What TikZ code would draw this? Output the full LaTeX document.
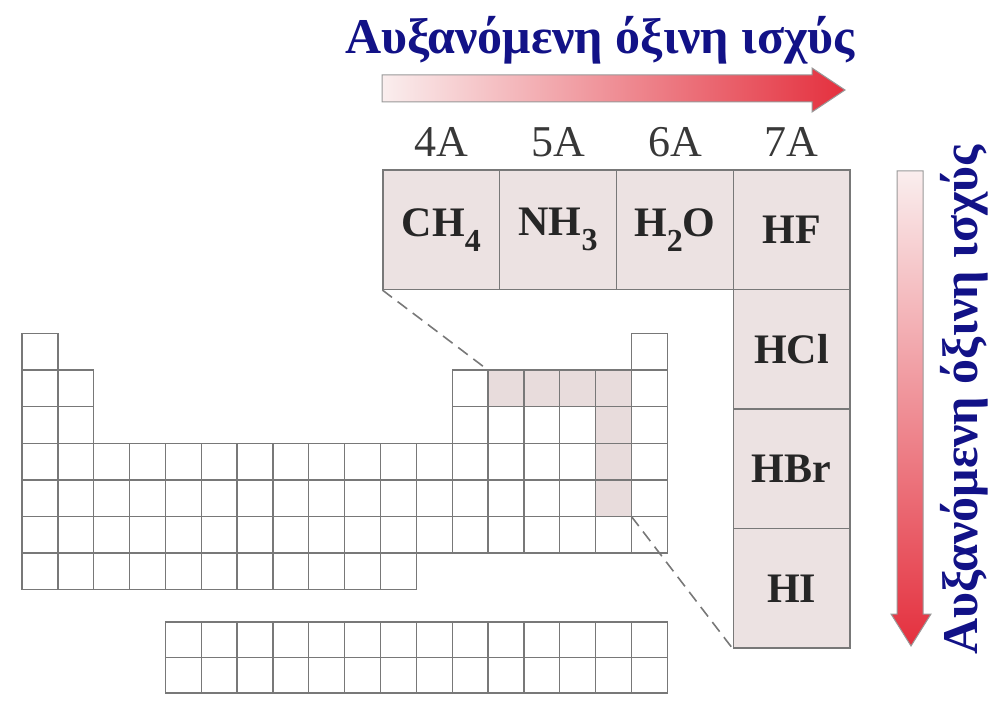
\documentclass[tikz,border=0pt]{standalone}
\usepackage{fontspec}
\setmainfont{Liberation Serif}
\definecolor{navy}{RGB}{18,18,135}
\definecolor{gridgray}{RGB}{120,120,120}
\definecolor{boxfill}{RGB}{236,226,226}
\definecolor{hlfill}{RGB}{232,220,220}
\definecolor{arrlight}{RGB}{250,238,238}
\definecolor{arrred}{RGB}{228,48,62}
\newcommand\chsub[1]{\raisebox{-15pt}{\fontsize{32}{32}\selectfont #1}}
\begin{document}
\begin{tikzpicture}[x=1pt,y=-1pt,
  cell/.style={draw=gridgray, line width=1.3pt},
  hl/.style={fill=hlfill},
  bigcell/.style={draw=gridgray, line width=1.2pt, fill=boxfill, minimum width=116.75pt, minimum height=119.5pt, inner sep=0pt, font=\fontsize{42}{46}\selectfont\bfseries, text=black!85},
  grouplabel/.style={anchor=base, font=\fontsize{44}{48}\selectfont, text=black!78},
  title/.style={font=\fontsize{50}{54}\selectfont\bfseries, text=navy},
  dashconn/.style={draw=gridgray, line width=1.6pt, dash pattern=on 12pt off 7pt},
  shadedarrow/.style={draw=gray!80, line width=1pt}
]
\useasboundingbox (0,0) rectangle (992,708);
\def\X{22}\def\W{35.85}\def\Y{333.5}\def\H{36.6}
% highlighted cells
\foreach \c/\r in {14/2,15/2,16/2,17/2,17/3,17/4,17/5}
  \fill[hl] ({\X+(\c-1)*\W},{\Y+(\r-1)*\H}) rectangle ++(\W,\H);
% main grid
\foreach \c/\ra/\rb in {1/1/7,2/2/7,3/4/7,4/4/7,5/4/7,6/4/7,7/4/7,8/4/7,9/4/7,10/4/7,11/4/7,12/4/6,13/2/6,14/2/6,15/2/6,16/2/6,17/2/6,18/1/6}{
  \foreach \r in {\ra,...,\rb}
    \draw[cell] ({\X+(\c-1)*\W},{\Y+(\r-1)*\H}) rectangle ++(\W,\H);
}
% lanthanide / actinide block
\foreach \c in {5,...,18}{
  \foreach \r in {0,1}
    \draw[cell] ({\X+(\c-1)*\W},{622+\r*35.5}) rectangle ++(\W,35.5);
}
\coordinate (g14) at ({\X+13*\W},{\Y+\H});
\coordinate (g18) at ({\X+17*\W},{\Y+5*\H});
% big boxes
\node[bigcell] (ch4) at (441.4,229.75) {CH\chsub{4}};
\node[bigcell] (nh3) at (558.1,229.75) {NH\chsub{3}};
\node[bigcell] (h2o) at (674.9,229.75) {H\chsub{2}O};
\node[bigcell] (hf)  at (791.6,229.75) {HF};
\node[bigcell] (hcl) at (791.6,349.25) {HCl};
\node[bigcell] (hbr) at (791.6,468.75) {HBr};
\node[bigcell] (hi)  at (791.6,588.25) {HI};
% dashed connectors
\draw[dashconn] (ch4.south west) -- (g14);
\draw[dashconn] (g18) -- (hi.south west);
% group labels
\node[grouplabel] (l4) at (441.4,157) {4A};
\node[grouplabel] (l5) at (558.1,157) {5A};
\node[grouplabel] (l6) at (674.9,157) {6A};
\node[grouplabel] (l7) at (791.6,157) {7A};
% arrows
\draw[shadedarrow, left color=arrlight, right color=arrred]
  (382,75) -- (812,75) -- (812,68) -- (845,90) -- (812,112) -- (812,102) -- (382,102) -- cycle;
\draw[shadedarrow, top color=arrlight, bottom color=arrred]
  (897,171) -- (923,171) -- (923,614) -- (931,614) -- (911,646) -- (891,614) -- (897,614) -- cycle;
% titles
\node[title, anchor=base] (t1) at (600,54) {Αυξανόμενη όξινη ισχύς};
\node[title, anchor=base, rotate=90] (t2) at (977,400) {Αυξανόμενη όξινη ισχύς};
\end{tikzpicture}
\end{document}
